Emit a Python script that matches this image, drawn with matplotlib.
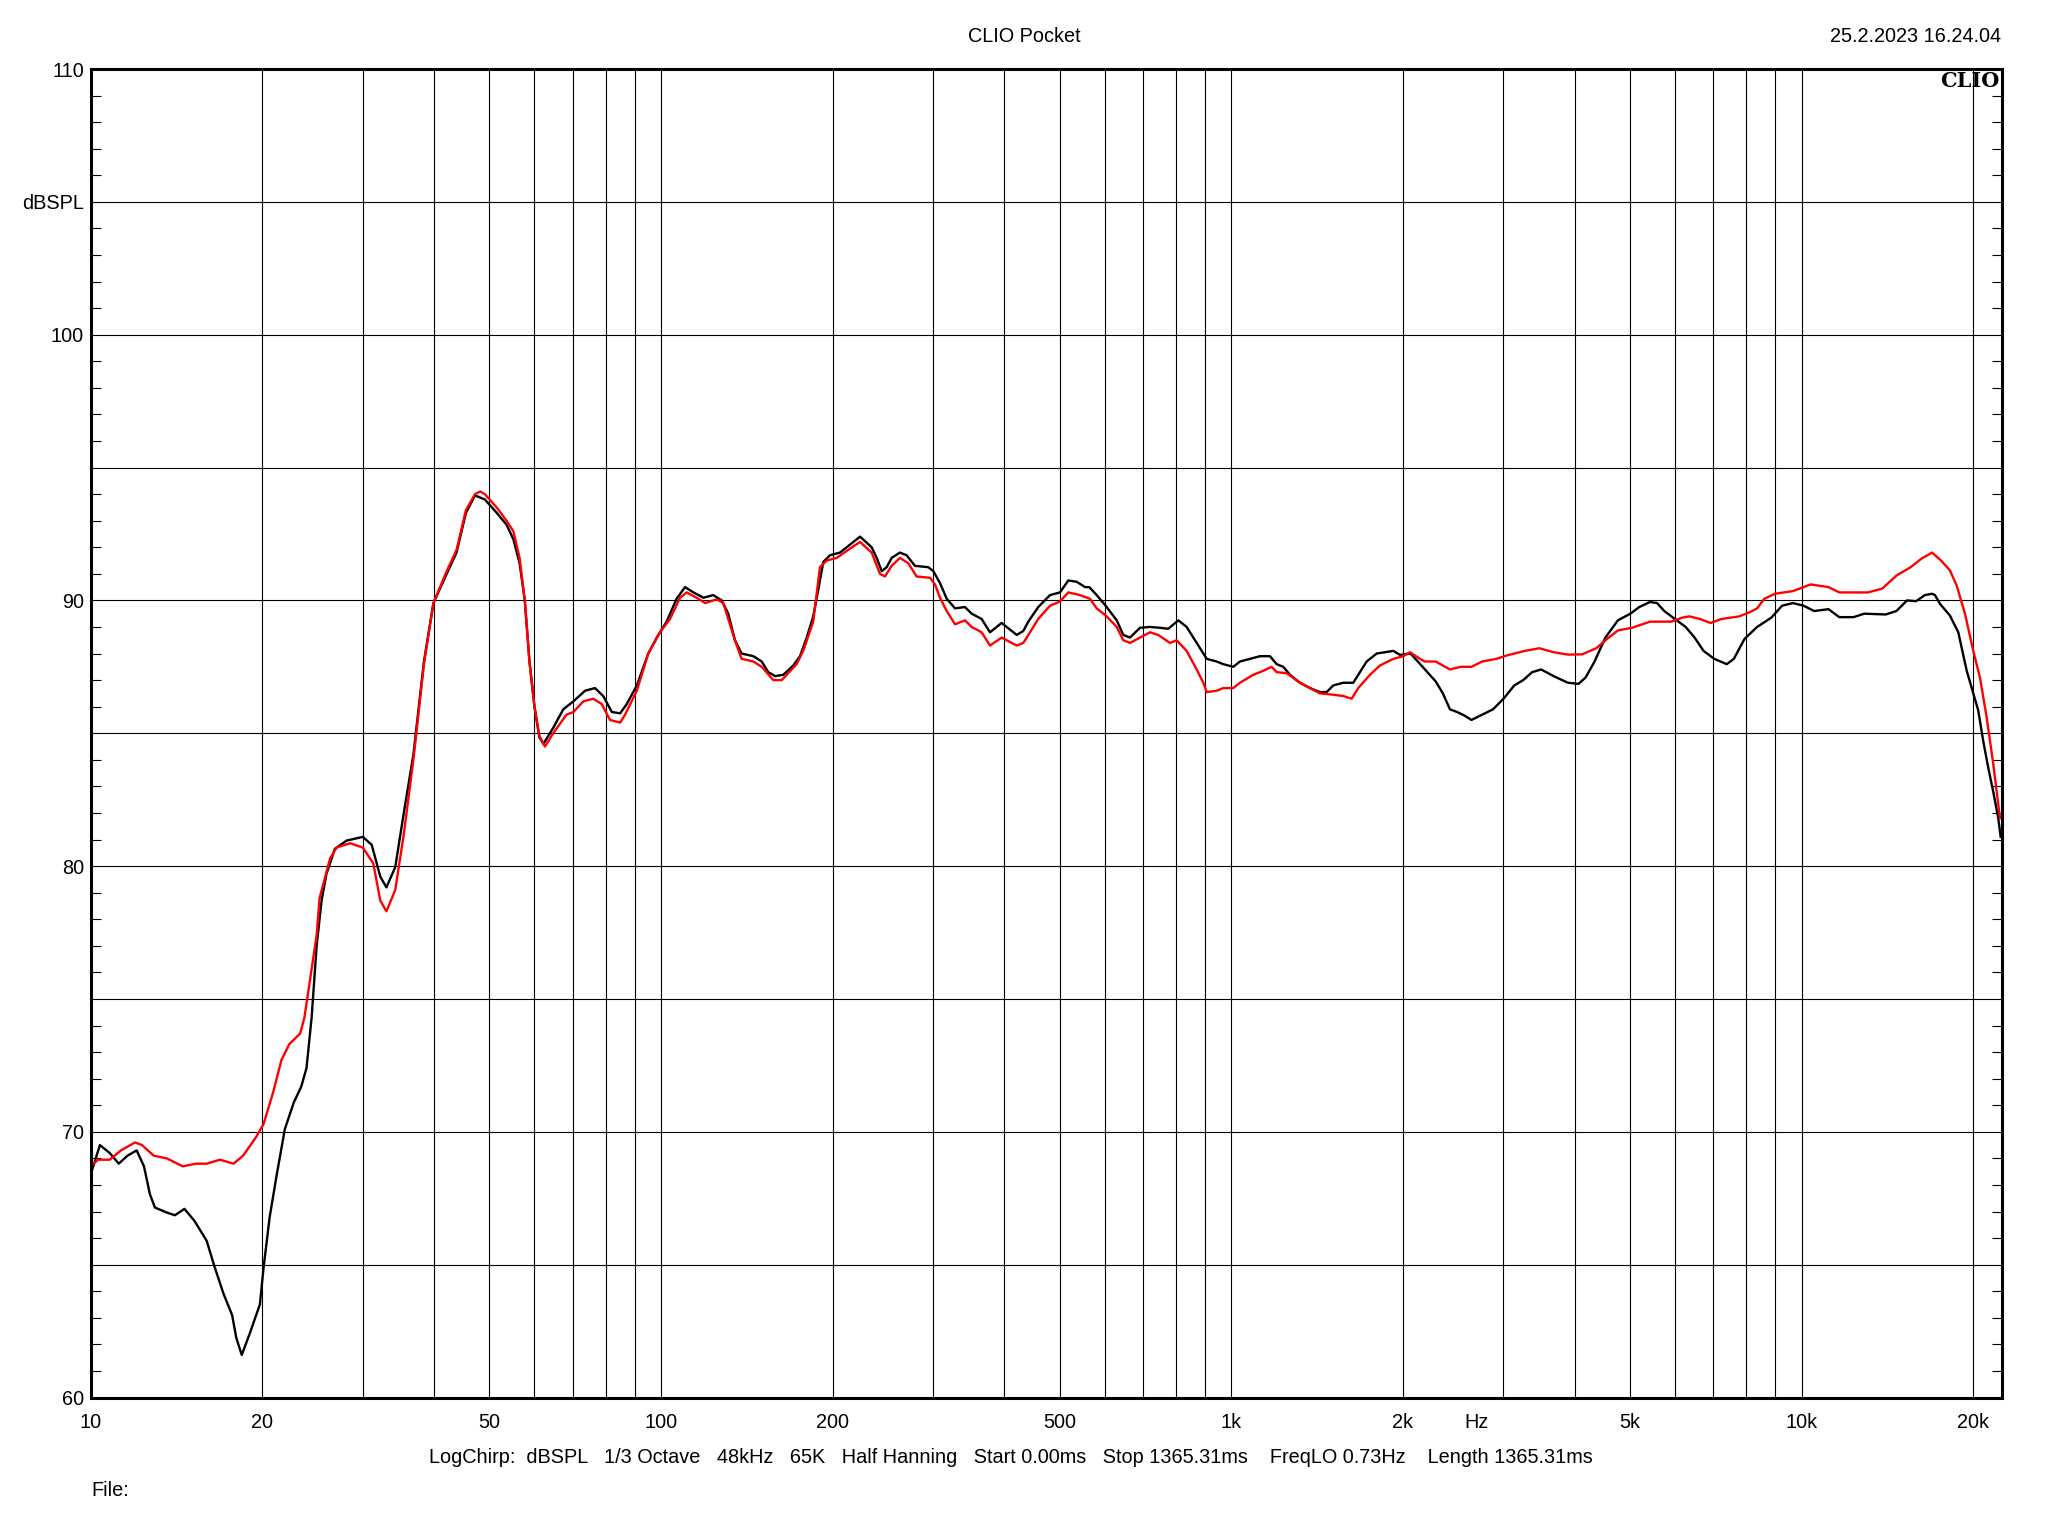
import matplotlib
matplotlib.use("Agg")
import matplotlib.pyplot as plt
from matplotlib.ticker import FixedLocator, NullFormatter, MultipleLocator, FixedFormatter

# ---------------- data ----------------
black_freq = [10.0, 10.38, 10.8, 11.2, 11.6, 12.04, 12.4, 12.7, 12.96, 13.6, 14.05, 14.6, 15.2, 15.97,
              16.5, 17.1, 17.7, 18.0, 18.4, 19.0, 19.8, 20.1, 20.6, 21.2, 21.9, 22.7, 23.4, 23.9,
              24.4, 24.9, 25.4, 25.9, 26.8, 28.1, 30.0, 31.1, 32.2, 33.0, 34.2, 35.4, 36.8, 38.4,
              39.9, 42.1, 43.8, 45.5, 47.2, 49.1, 51.5, 53.6, 55.1, 56.5, 57.7, 58.8, 60.0, 61.2,
              62.2, 64.7, 67.4, 70.2, 73.6, 76.6, 79.2, 82.0, 84.8, 87.1, 90.7, 95.0, 98.3, 102.3,
              106.5, 110.2, 114.0, 118.7, 123.5, 127.8, 131.2, 134.8, 138.5, 145.2, 150.2, 154.2,
              158.5, 163.9, 170.6, 175.3, 180.1, 184.9, 188.7, 192.6, 197.9, 206.0, 214.5, 223.4,
              234.1, 238.9, 243.8, 248.7, 253.8, 262.4, 269.6, 278.8, 294.2, 300.3, 308.5, 317.0,
              327.8, 341.2, 350.6, 365.0, 377.5, 395.7, 420.5, 431.9, 440.6, 458.7, 481.0, 500.8,
              517.9, 535.8, 554.1, 563.7, 580.8, 604.7, 629.7, 646.6, 664.4, 691.8, 720.3, 749.9,
              775.4, 807.4, 835.2, 869.6, 905.6, 942.8, 968.3, 1008.1, 1035.6, 1078.5, 1122.9,
              1169.0, 1201.2, 1233.7, 1267.5, 1319.8, 1374.1, 1430.7, 1469.8, 1509.6, 1571.7,
              1636.4, 1669.9, 1727.4, 1798.8, 1923.9, 1976, 2063, 2124, 2186, 2283, 2350, 2418,
              2489, 2562, 2637, 2754, 2877, 3002, 3135, 3250, 3370, 3494, 3675, 3893, 4064, 4182,
              4335, 4529, 4764, 5010, 5193, 5422, 5580, 5744, 5998, 6263, 6493, 6732, 7030, 7393,
              7608, 7943, 8356, 8851, 9243, 9655, 10080, 10525, 11150, 11645, 12337, 12881, 14044,
              14665, 15311, 15876, 16457, 16937, 17138, 17487, 18203, 18828, 19476, 20003, 20408,
              20826, 21251, 21683, 22127, 22343]
black_db = [68.4, 69.5, 69.2, 68.8, 69.1, 69.3, 68.7, 67.65, 67.15, 66.96, 66.86, 67.1, 66.65, 65.9,
            64.9, 63.9, 63.1, 62.25, 61.6, 62.4, 63.5, 64.9, 66.8, 68.4, 70.1, 71.1, 71.7, 72.4,
            74.3, 77.0, 78.7, 79.7, 80.65, 80.96, 81.1, 80.8, 79.6, 79.2, 79.96, 82.0, 84.2, 87.7,
            89.9, 91.0, 91.8, 93.3, 93.95, 93.8, 93.3, 92.85, 92.3, 91.4, 90.0, 87.7, 86.0, 84.85,
            84.6, 85.2, 85.9, 86.2, 86.6, 86.7, 86.4, 85.8, 85.75, 86.1, 86.8, 88.0, 88.6, 89.2,
            90.06, 90.5, 90.3, 90.1, 90.2, 90.0, 89.5, 88.5, 88.0, 87.9, 87.7, 87.3,
            87.15, 87.2, 87.55, 87.9, 88.6, 89.4, 90.4, 91.45, 91.7, 91.8, 92.1, 92.4,
            92.0, 91.6, 91.1, 91.25, 91.6, 91.8, 91.7, 91.3, 91.25, 91.1, 90.65, 90.06,
            89.7, 89.75, 89.5, 89.3, 88.8, 89.15, 88.7, 88.85, 89.2, 89.75, 90.2, 90.3,
            90.75, 90.7, 90.5, 90.5, 90.2, 89.75, 89.25, 88.7, 88.6, 88.97, 89.0, 88.97,
            88.93, 89.25, 89.0, 88.4, 87.8, 87.7, 87.6, 87.5, 87.7, 87.8, 87.9,
            87.9, 87.6, 87.5, 87.2, 86.9, 86.7, 86.55, 86.55, 86.8, 86.9,
            86.9, 87.2, 87.7, 88.0, 88.1, 87.95, 88.0, 87.7, 87.4, 86.95, 86.5, 85.9,
            85.8, 85.67, 85.5, 85.7, 85.9, 86.3, 86.8, 87.0, 87.3, 87.4, 87.15, 86.9, 86.86, 87.1,
            87.7, 88.6, 89.25, 89.5, 89.75, 89.94, 89.9, 89.6, 89.3, 89.0, 88.6, 88.1, 87.8, 87.6,
            87.8, 88.55, 89.0, 89.35, 89.8, 89.9, 89.8, 89.6, 89.67, 89.37, 89.37, 89.5, 89.47,
            89.6, 90.0, 89.97, 90.2, 90.25, 90.2, 89.87, 89.43, 88.8, 87.36, 86.5, 85.86,
            84.7, 83.7, 82.8, 81.8, 81.1]

red_freq = [10.0, 10.3, 10.8, 11.3, 11.96, 12.3, 12.9, 13.6, 14.5, 15.3, 15.97, 16.85, 17.8, 18.5,
            19.5, 20.1, 20.9, 21.6, 22.3, 23.3, 23.7, 24.2, 24.9, 25.2, 26.3, 27.0, 28.5, 30.0,
            31.3, 32.2, 33.0, 34.2, 35.4, 36.8, 38.4, 39.9, 42.1, 43.8, 45.5, 47.2, 48.2, 49.1,
            51.5, 53.6, 55.1, 56.5, 57.7, 58.8, 60.0, 61.2, 62.6, 64.7, 68.3, 70.2, 73.1, 76.1,
            78.7, 81.4, 84.8, 86.5, 90.7, 95.0, 99.6, 103.7, 108.0, 110.9, 115.5, 119.5, 125.2,
            128.6, 134.8, 138.5, 145.2, 150.2, 157.4, 162.8, 172.9, 177.6, 184.9, 190.0, 195.3,
            203.3, 214.5, 223.4, 234.1, 242.1, 247.0, 253.8, 262.4, 271.4, 280.7, 296.4, 302.3,
            308.5, 317.0, 327.8, 341.2, 350.6, 365.0, 377.5, 395.7, 420.5, 431.9, 440.6, 458.7,
            481.0, 500.8, 517.9, 542.8, 565.3, 580.8, 604.7, 629.7, 646.6, 664.4, 691.8, 720.3,
            744.7, 780.6, 802.1, 835.2, 869.6, 893.3, 905.6, 942.8, 968.3, 1008.1, 1035.6, 1093,
            1138, 1177, 1201.2, 1250.6, 1319.8, 1374.1, 1430.7, 1509.6, 1571.7, 1626, 1669.9,
            1750.6, 1822.6, 1923.9, 2002.8, 2057.9, 2142.7, 2186, 2283, 2418, 2525, 2637, 2754,
            2917, 3044, 3273, 3469, 3675, 3893, 4122, 4367, 4560, 4764, 5045, 5422, 5912, 6174,
            6356, 6637, 6928, 7234, 7778, 8121, 8356, 8602, 8981, 9655, 10375, 11150, 11645,
            12337, 13071, 13843, 14681, 15535, 16224, 16937, 17563, 18203, 18707, 19342, 20003,
            20550, 21114, 21683, 22280]
red_db = [68.7, 68.95, 68.95, 69.3, 69.6, 69.5, 69.1, 69.0, 68.7, 68.8, 68.8, 68.95, 68.8, 69.1,
          69.8, 70.3, 71.5, 72.7, 73.3, 73.7, 74.3, 75.6, 77.4, 78.8, 80.3, 80.7, 80.86, 80.7,
          80.1, 78.7, 78.3, 79.1, 81.2, 84.0, 87.6, 89.9, 91.1, 91.9, 93.4, 94.0, 94.1, 94.0,
          93.5, 93.0, 92.6, 91.6, 90.0, 87.7, 86.0, 84.9, 84.5, 85.0, 85.7, 85.8, 86.2, 86.3,
          86.1, 85.5, 85.4, 85.7, 86.6, 88.0, 88.8, 89.3, 90.1, 90.3, 90.1, 89.9, 90.04,
          89.9, 88.5, 87.8, 87.7, 87.5, 87.0, 87.0, 87.6, 88.1, 89.2, 91.25, 91.5,
          91.6, 91.95, 92.2, 91.8, 91.0, 90.9, 91.3, 91.6, 91.4, 90.9, 90.85, 90.6,
          90.1, 89.6, 89.1, 89.25, 89.0, 88.8, 88.3, 88.6, 88.3, 88.4, 88.7, 89.3,
          89.8, 89.96, 90.3, 90.2, 90.06, 89.7, 89.4, 89.0, 88.5, 88.4, 88.6, 88.8,
          88.7, 88.4, 88.5, 88.1, 87.4, 86.9, 86.55, 86.6, 86.7, 86.7, 86.9, 87.2,
          87.35, 87.5, 87.3, 87.26, 86.9, 86.7, 86.5, 86.45, 86.4, 86.3, 86.7,
          87.2, 87.55, 87.8, 87.9, 88.05, 87.8, 87.7, 87.7, 87.4, 87.5, 87.5, 87.7,
          87.8, 87.93, 88.1, 88.2, 88.05, 87.96, 87.97, 88.2, 88.55, 88.87, 88.97, 89.2, 89.2, 89.35,
          89.4, 89.3, 89.15, 89.3, 89.4, 89.56, 89.7, 90.06, 90.25, 90.35, 90.6, 90.5, 90.3,
          90.3, 90.3, 90.44, 90.94, 91.25, 91.57, 91.8, 91.5, 91.13, 90.56, 89.5, 88.1,
          87.1, 85.6, 83.85, 81.8]

x_tick_values = [10, 20, 50, 100, 200, 500, 1000, 2000, 5000, 10000, 20000]
x_tick_labels = ["10", "20", "50", "100", "200", "500", "1k", "2k", "5k", "10k", "20k"]
y_tick_values = [60, 65, 70, 75, 80, 85, 90, 95, 100, 105, 110]
y_tick_labels = ["60", "", "70", "", "80", "", "90", "", "100", "dBSPL", "110"]

title_text = "CLIO Pocket"
date_text = "25.2.2023 16.24.04"
info_text = ("LogChirp:  dBSPL   1/3 Octave   48kHz   65K   Half Hanning   Start 0.00ms   "
             "Stop 1365.31ms    FreqLO 0.73Hz    Length 1365.31ms")

# ---------------- figure ----------------
plt.rcParams['font.family'] = ['Liberation Sans', 'DejaVu Sans']
FS = 14.3
W, H = 2048, 1536
fig = plt.figure(figsize=(W / 100, H / 100), dpi=100)
ax = fig.add_axes([90.7 / W, 1 - 1397.5 / H, (2001.7 - 90.7) / W, (1397.5 - 69) / H])

ax.set_xscale('log')
ax.set_xlim(10, 22436)
ax.set_ylim(60, 110)

# grid lines
grid_x = []
for dec in [10, 100, 1000, 10000]:
    for m in range(1, 10):
        v = dec * m
        if 10 < v < 22436:
            grid_x.append(v)
ax.xaxis.set_major_locator(FixedLocator(x_tick_values))
ax.xaxis.set_major_formatter(FixedFormatter(x_tick_labels))
ax.xaxis.set_minor_locator(FixedLocator([]))
ax.xaxis.set_minor_formatter(NullFormatter())
for v in grid_x:
    ax.axvline(v, color='black', lw=0.8, zorder=1)
for v in y_tick_values[1:-1]:
    ax.axhline(v, color='black', lw=0.8, zorder=1)

ax.yaxis.set_major_locator(FixedLocator(y_tick_values))
ax.yaxis.set_major_formatter(FixedFormatter(y_tick_labels))
ax.yaxis.set_minor_locator(MultipleLocator(1))

ax.tick_params(axis='x', which='both', length=0, pad=11, labelsize=FS)
ax.tick_params(axis='y', which='major', length=0, pad=5, labelsize=FS)
ax.tick_params(axis='y', which='minor', direction='in', length=7.5, width=0.8,
               left=True, right=True, color='black')

for s in ax.spines.values():
    s.set_linewidth(2.2)
    s.set_color('black')
    s.set_zorder(5)

ax.plot(black_freq, black_db, color='black', lw=1.7, zorder=3)
ax.plot(red_freq, red_db, color='#ff0000', lw=1.7, zorder=4)

ax.text(0.9986, 0.9985, "CLIO", transform=ax.transAxes, ha='right', va='top',
        fontsize=15, fontweight='bold', family='DejaVu Serif', zorder=6)

fig.text(1024 / W, 1 - 36.5 / H, title_text, ha='center', va='center', fontsize=FS)
fig.text(2001 / W, 1 - 36.5 / H, date_text, ha='right', va='center', fontsize=FS)
fig.text(1477 / W, 1 - 1423 / H, "Hz", ha='center', va='center', fontsize=FS)
fig.text(1011 / W, 1 - 1457.5 / H, info_text, ha='center', va='center', fontsize=FS)
fig.text(91 / W, 1 - 1490 / H, "File:", ha='left', va='center', fontsize=FS)

fig.savefig("out.png", dpi=100, facecolor='white')
